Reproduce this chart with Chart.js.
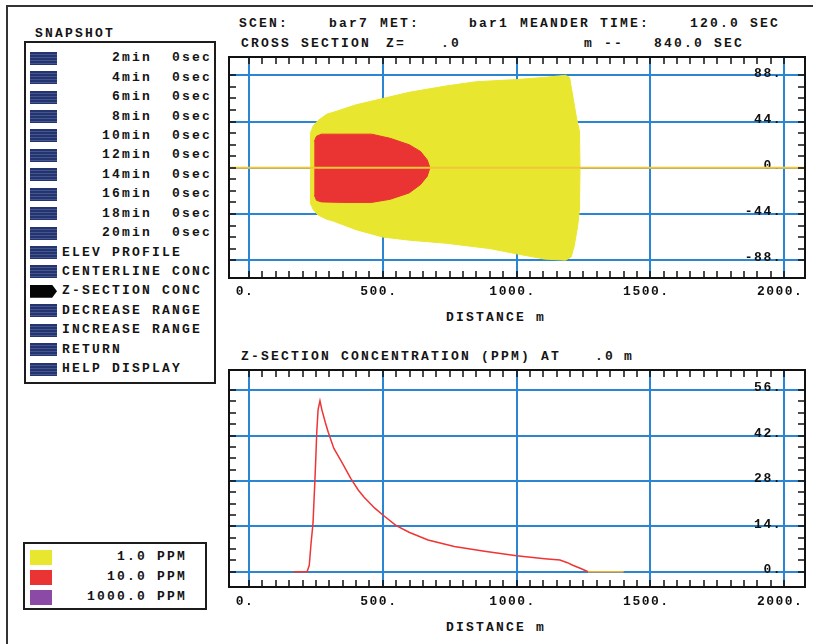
<!DOCTYPE html>
<html>
<head>
<meta charset="utf-8">
<script src="https://cdn.jsdelivr.net/npm/chart.js@4"></script>
<style>
  body { margin: 0; background: #fff; }
  #page {
    position: relative; width: 813px; height: 644px; overflow: hidden; background: #fff;
    font: bold 13px "Liberation Mono", monospace; letter-spacing: 2.2px; color: #141414;
  }
  .t { position: absolute; white-space: pre; line-height: 16px; }
  .box { position: absolute; box-sizing: border-box; border: 2px solid #1c1c1c; }
  .icon {
    position: absolute; left: 30px; width: 27px; height: 13px;
    background: repeating-linear-gradient(180deg, #24346f 0 2px, #45568f 2px 3px);
  }
  .icon.on { background: #050505; clip-path: polygon(0 0, 82% 0, 100% 50%, 82% 100%, 0 100%); }
  .swatch { position: absolute; left: 30px; width: 22px; height: 15px; }
  canvas { position: absolute; }
</style>
</head>
<body>
<div id="page">
  <div style="position:absolute;left:6px;top:5px;width:820px;height:660px;border-left:2px solid #333;border-top:2px solid #333"></div>
  <div class="box" style="left:24px;top:41px;width:192px;height:343px"></div>
  <div class="box" style="left:23px;top:542px;width:184px;height:68px"></div>
  <canvas id="cross" width="580" height="250" style="left:227px;top:55px"></canvas>
  <canvas id="conc" width="580" height="246" style="left:227px;top:368px"></canvas>
</div>
<script>
// gridline positions (m) and (m / ppm)
const xTickValues = [0, 500, 1000, 1500, 2000];
const crossTickValues = [-88, -44, 0, 44, 88];
const concTickValues = [0, 14, 28, 42, 56];

// 1.0 ppm contour, walked round the outline
const plume1X = [228, 240, 258, 290, 317, 400, 500, 600, 740, 850, 1000, 1100, 1183, 1198, 1225, 1235, 1237,
  1235, 1228, 1215, 1204, 1183, 1105, 1000, 900, 740, 600, 500, 400, 317, 290, 258, 240, 228];
const plume1Y = [32, 40, 45, 51, 53, 60, 66, 72, 78, 82, 84, 86, 88, 86, 46, 35, 0,
  -40, -56, -75, -85, -88, -87, -82, -77, -72, -69, -66, -59, -51, -49, -45, -40, -33];

// 10.0 ppm contour
const plume10X = [244, 252, 270, 350, 458, 528, 598, 641, 666, 676, 666, 641, 598, 528, 458, 350, 270, 252, 244];
const plume10Y = [25, 30, 32, 32, 32, 28, 22, 15.5, 7.5, 0, -8, -16, -24, -30, -33, -33, -32.5, -31, -26];

// plume centreline
const centerX = [-75, 2078];
const centerY = [0, 0];

// concentration along the centreline (ppm)
const concX = [165, 217, 225, 232, 239, 246, 249, 253, 258, 265, 272, 285, 296, 317, 345, 380, 408, 430, 470,
  500, 550, 600, 669, 767, 880, 1000, 1105, 1162, 1190, 1210, 1240, 1267, 1400];
const concY = [0, 0, 2, 9, 15, 28, 34, 43, 50, 52.7, 50, 46, 43, 38, 34, 28.8, 25.2, 23, 19.6,
  17.5, 14.2, 12.1, 9.8, 7.8, 6.3, 4.9, 4.0, 3.6, 2.8, 2.0, 1.0, 0, 0];

const snapshotMinutes = [2, 4, 6, 8, 10, 12, 14, 16, 18, 20];
const menuCommands = ['ELEV PROFILE', 'CENTERLINE CONC', 'Z-SECTION CONC', 'DECREASE RANGE',
  'INCREASE RANGE', 'RETURN', 'HELP DISPLAY'];
const activeCommand = 'Z-SECTION CONC';
const legendLabels = ['1.0 PPM', '10.0 PPM', '1000.0 PPM'];
const legendColors = ['#e8e62e', '#ea3434', '#8a4aa6'];

const page = document.getElementById('page');

function addText(str, x, cy, extra) {
  const d = document.createElement('div');
  d.className = 't';
  d.textContent = str;
  d.style.left = x + 'px';
  d.style.top = (cy - 8) + 'px';
  if (extra) Object.assign(d.style, extra);
  page.appendChild(d);
  return d;
}

// header lines
[['SCEN:', 239, 24], ['bar7', 329, 24], ['MET:', 380, 24], ['bar1', 469, 24], ['MEANDER TIME:', 520, 24],
 ['120.0', 690, 24], ['SEC', 750, 24],
 ['CROSS SECTION', 241, 44], ['Z=', 386, 44], ['.0', 441, 44], ['m --', 584, 44], ['840.0', 654, 44], ['SEC', 714, 44],
 ['Z-SECTION CONCENTRATION (PPM) AT', 241, 357], ['.0', 595, 357], ['m', 624, 357],
 ['DISTANCE m', 446, 318], ['DISTANCE m', 446, 628],
 ['SNAPSHOT', 35, 34]
].forEach(([s, x, y]) => addText(s, x, y));

// snapshot menu
const rows = snapshotMinutes.map(m => (m + 'min').padStart(9) + '  0sec').concat(menuCommands);
rows.forEach((label, i) => {
  const cy = 58.3 + i * 19.42;
  const ic = document.createElement('div');
  ic.className = 'icon' + (label === activeCommand ? ' on' : '');
  ic.style.top = (cy - 6.5) + 'px';
  page.appendChild(ic);
  addText(label, 62, cy);
});

// colour legend
legendLabels.forEach((label, i) => {
  const cy = 557 + i * 20;
  const sw = document.createElement('div');
  sw.className = 'swatch';
  sw.style.top = (cy - 7.5) + 'px';
  sw.style.background = legendColors[i];
  page.appendChild(sw);
  addText(label, 60, cy, { width: '127px', textAlign: 'right' });
});

// plot frame with inward minor ticks
const frameTicks = {
  id: 'frameTicks',
  beforeDraw(chart) { chart.ctx.letterSpacing = '1.5px'; },
  afterDatasetsDraw(chart, args, opts) {
    const { ctx, chartArea: a, scales: { x, y } } = chart;
    ctx.save();
    ctx.strokeStyle = '#111';
    ctx.lineWidth = 1.5;
    ctx.beginPath();
    const xs = x.ticks.map(t => t.value), ys = y.ticks.map(t => t.value);
    for (let v = xs[0]; v <= xs[xs.length - 1] + 1e-6; v += opts.xStep) {
      const px = Math.round(x.getPixelForValue(v));
      ctx.moveTo(px, a.top); ctx.lineTo(px, a.top + opts.len);
      ctx.moveTo(px, a.bottom); ctx.lineTo(px, a.bottom - opts.len);
    }
    for (let v = ys[0]; v <= ys[ys.length - 1] + 1e-6; v += opts.yStep) {
      const py = Math.round(y.getPixelForValue(v));
      ctx.moveTo(a.left, py); ctx.lineTo(a.left + opts.len, py);
      ctx.moveTo(a.right, py); ctx.lineTo(a.right - opts.len, py);
    }
    ctx.stroke();
    ctx.lineWidth = 2;
    ctx.strokeRect(a.left, a.top, a.right - a.left, a.bottom - a.top);
    ctx.restore();
  }
};

const tickFont = { family: '"Liberation Mono", monospace', size: 13, weight: 'bold' };
const gridBlue = '#2a86d2';

function pts(xs, ys) { return xs.map((x, i) => ({ x, y: ys[i] })); }

function makeChart(id, datasets, yMin, yMax, yTicks, yStep, xPad) {
  return new Chart(document.getElementById(id), {
    type: 'line',
    data: { datasets },
    plugins: [frameTicks],
    options: {
      responsive: false,
      animation: false,
      layout: { padding: { left: 2, right: 2, top: 2, bottom: 0 } },
      elements: { point: { radius: 0 }, line: { tension: 0 } },
      plugins: { legend: { display: false }, tooltip: { enabled: false },
        frameTicks: { xStep: 50, yStep, len: 7 } },
      scales: {
        x: {
          type: 'linear', min: -75, max: 2078,
          afterBuildTicks: s => { s.ticks = xTickValues.map(v => ({ value: v })); },
          afterFit: s => { s.height = 27; s.paddingLeft = 0; s.paddingRight = 0; },
          grid: { color: gridBlue, lineWidth: 2, drawTicks: false },
          border: { display: false },
          ticks: { font: tickFont, color: '#111', padding: xPad, labelOffset: -4, maxRotation: 0,
            autoSkip: false, callback: v => v + '.' }
        },
        y: {
          type: 'linear', position: 'right', min: yMin, max: yMax,
          afterBuildTicks: s => { s.ticks = yTicks.map(v => ({ value: v })); },
          afterFit: s => { s.width = 0; s.paddingTop = 0; s.paddingBottom = 0; },
          grid: { color: gridBlue, lineWidth: 2, drawTicks: false },
          border: { display: false },
          ticks: { font: tickFont, color: '#111', mirror: true, padding: -23, labelOffset: -2,
            callback: v => v + '.' }
        }
      }
    }
  });
}

makeChart('cross', [
  { data: pts(plume1X, plume1Y), fill: 'shape', backgroundColor: legendColors[0],
    borderColor: legendColors[0], borderWidth: 1, order: 3 },
  { data: pts(plume10X, plume10Y), fill: 'shape', backgroundColor: legendColors[1],
    borderColor: legendColors[1], borderWidth: 1, order: 2 },
  { data: pts(centerX, centerY), fill: false, borderColor: '#f3c63a', borderWidth: 2, order: 1 }
], -105, 105.5, crossTickValues, 11, 6);

makeChart('conc', [
  { data: pts(concX, concY), fill: false, borderColor: '#f03434', borderWidth: 1.5,
    segment: { borderColor: c => (c.p0.parsed.y === 0 && c.p1.parsed.y === 0 && c.p0.parsed.x > 1000) ? '#f2b030' : undefined } }
], -4.7, 62.2, concTickValues, 3.5, 7);
</script>
</body>
</html>
